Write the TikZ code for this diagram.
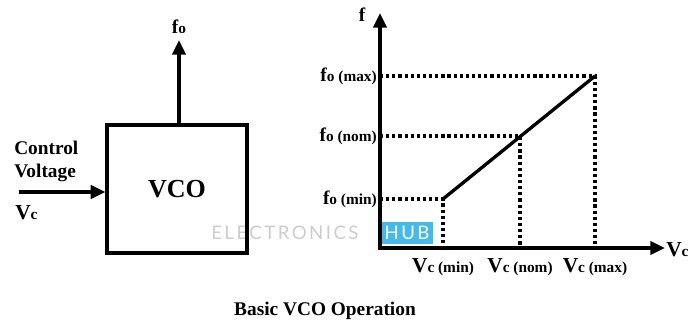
\documentclass[tikz,border=0pt]{standalone}
\usepackage{fontspec}
\setmainfont{Liberation Serif}
\newfontfamily\wmfont[LetterSpace=13]{Lato}
\usetikzlibrary{arrows.meta, positioning}

\definecolor{hubblue}{RGB}{70,185,235}

% chu nho cho chi so duoi
\newcommand{\lowtxt}[1]{{\fontsize{11.5}{12}\selectfont #1}}

\tikzset{
  thickline/.style={line width=2.5pt},
  dotline/.style={line width=2.4pt, dash pattern=on 2.4pt off 2.2pt},
  blocktxt/.style={font=\bfseries\fontsize{19.5}{22}\selectfont},
  lbl/.style={font=\bfseries\fontsize{14.5}{17.25}\selectfont, inner sep=0pt},
  vlbl/.style={font=\bfseries\fontsize{16}{18}\selectfont, inner sep=0pt},
}

\begin{document}
\begin{tikzpicture}[x=0.75pt, y=-0.75pt, >={Triangle[length=11pt, width=10pt]}, line join=miter]
    \useasboundingbox (0,0) rectangle (691,324);

    % =================================================================
    % 0. WATERMARK
    % =================================================================
    \node[font=\wmfont\fontsize{14}{16}\selectfont, text=gray!40, anchor=west, inner sep=0pt] (wm) at (211,233) {ELECTRONICS};
    \node[fill=hubblue, text=white, font=\wmfont\fontsize{14}{16}\selectfont, anchor=west, minimum height=16.5pt, inner sep=2.5pt] (hub) at (381,233) {HUB};

    % =================================================================
    % 1. KHOI VCO
    % =================================================================
    \node[draw, thickline, minimum width=105pt, minimum height=96pt, blocktxt] (vco) at (177,189) {VCO};

    % Ngo ra f_o
    \coordinate (ftip) at (179,40);
    \draw[thickline, ->] (vco.north -| ftip) -- (ftip);
    \node[lbl] (fo) at (179,27) {f\lowtxt{o}};

    % Ngo vao V_c
    \coordinate (vin) at (19,192);
    \draw[thickline, ->] (vin) -- (vin -| vco.west);
    \node[lbl, anchor=west, align=left] (ctrl) at (14,161) {Control\\Voltage};
    \node[vlbl, anchor=west] (vc) at (15,213) {V\lowtxt{c}};

    % =================================================================
    % 2. HE TRUC f - V_c
    % =================================================================
    \coordinate (O) at (380,248);
    \coordinate (ytop) at (380,13);
    \coordinate (xend) at (665,248);
    \draw[thickline, <->] (ytop) -- (O) -- (xend);

    \node[lbl] (flbl) at (362,15) {f};
    \node[vlbl, anchor=west] (vclbl) at (666,250) {V\lowtxt{c}};

    % =================================================================
    % 3. DUONG DAC TUYEN VA NET CHAM
    % =================================================================
    \coordinate (pmin) at (443,199);
    \coordinate (pnom) at (520,136);
    \coordinate (pmax) at (595,76);

    \draw[dotline] (O |- pmin) -- (pmin) -- (pmin |- O);
    \draw[dotline] (O |- pnom) -- (pnom) -- (pnom |- O);
    \draw[dotline] (O |- pmax) -- (pmax) -- (pmax |- O);

    \draw[thickline] (pmin) -- (pmax);

    % =================================================================
    % 4. NHAN
    % =================================================================
    \node[lbl, anchor=east] (fmax) at (377,76) {f\lowtxt{o (max)}};
    \node[lbl, anchor=east] (fnom) at (377,136) {f\lowtxt{o (nom)}};
    \node[lbl, anchor=east] (fmin) at (377,199) {f\lowtxt{o (min)}};

    \node[vlbl] (vmin) at (443,267) {V\lowtxt{c (min)}};
    \node[vlbl] (vnom) at (520,267) {V\lowtxt{c (nom)}};
    \node[vlbl] (vmax) at (595,267) {V\lowtxt{c (max)}};

    \node[lbl] (cap) at (325,311) {Basic VCO Operation};

\end{tikzpicture}
\end{document}
